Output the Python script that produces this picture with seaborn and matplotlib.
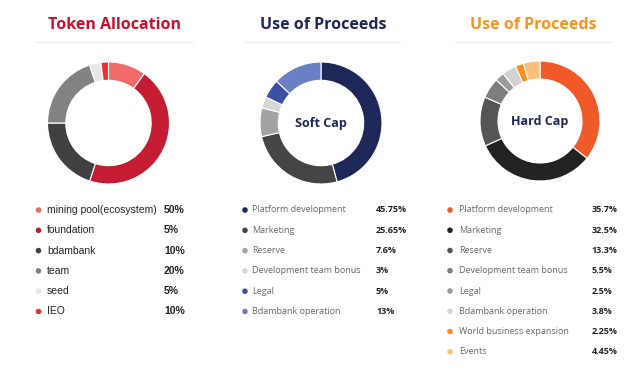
import matplotlib
matplotlib.use("Agg")
import matplotlib.pyplot as plt
import seaborn as sns
import pandas as pd

# --- data -------------------------------------------------------------
token_labels = ["mining pool(ecosystem)", "foundation", "bdambank", "team", "seed", "IEO"]
token_values = ["50%", "5%", "10%", "20%", "5%", "10%"]
token_marker_colors = ["#f0696a", "#c21a30", "#3c3c3e", "#7f7f82", "#e4e4e4", "#e8302e"]
# the ring as drawn in the picture (clockwise from 12 o'clock)
token_ring = [10, 45, 20, 20, 3, 2]
token_ring_colors = ["#f26b6b", "#c41c32", "#404043", "#828285", "#e6e6e6", "#e8302e"]

soft_labels = ["Platform development", "Marketing", "Reserve",
               "Development team bonus", "Legal", "Bdambank operation"]
soft_values = [45.75, 25.65, 7.6, 3, 5, 13]
soft_colors = ["#1e2858", "#454545", "#a3a3a3", "#d6d6d6", "#3d4fa3", "#6a7fc4"]

hard_labels = ["Platform development", "Marketing", "Reserve", "Development team bonus",
               "Legal", "Bdambank operation", "World business expansion", "Events"]
hard_values = [35.7, 32.5, 13.3, 5.5, 2.5, 3.8, 2.25, 4.45]
hard_colors = ["#f05a28", "#222222", "#555557", "#7d7d80", "#9a9a9c", "#d2d2d4", "#f7941d", "#fbbf7c"]

W, H = 640, 381
sns.set_theme(style="white")
plt.rcParams["font.family"] = ["Open Sans", "DejaVu Sans"]

fig = plt.figure(figsize=(W / 100, H / 100), dpi=100)
fig.patch.set_facecolor("white")
overlay = fig.add_axes([0, 0, 1, 1])
overlay.set_xlim(0, W)
overlay.set_ylim(H, 0)
overlay.axis("off")


def donut(cx, cy, r, values, colors, center_text=None):
    ax = fig.add_axes([(cx - r) / W, 1 - (cy + r) / H, 2 * r / W, 2 * r / H])
    ax.pie(values, colors=colors, startangle=90, counterclock=False,
           wedgeprops=dict(width=0.3, edgecolor="white", linewidth=0.8))
    ax.set_xlim(-1.0, 1.0)
    ax.set_ylim(-1.0, 1.0)
    ax.set_aspect("auto")
    if center_text:
        ax.text(0, 0, center_text, ha="center", va="center", fontsize=9,
                fontweight="bold", color="#1c2657")


def header(cx, x0, x1, text, color):
    overlay.text(cx, 25, text, ha="center", va="center", fontsize=11.5,
                 fontweight="bold", color=color)
    overlay.plot([x0, x1], [42, 42], color="#ececec", lw=0.8)


def legend(mx, tx, vx, y0, step, labels, values, colors, font,
           size, vsize, tcolor):
    ys = [y0 + i * step for i in range(len(labels))]
    df = pd.DataFrame({"x": [mx] * len(labels), "y": ys, "lab": labels})
    sns.scatterplot(data=df, x="x", y="y", hue="lab", palette=colors,
                    s=16, linewidth=0, legend=False, ax=overlay)
    for y, lab, val in zip(ys, labels, values):
        overlay.text(tx, y, lab, ha="left", va="center", fontsize=size,
                     color=tcolor, family=font)
        overlay.text(vx, y, val, ha="left", va="center", fontsize=vsize,
                     fontweight="bold", color="#222222", family=font)


header(114, 35, 193, "Token Allocation", "#c8102e")
header(323, 245, 400, "Use of Proceeds", "#1c2657")
header(533, 455, 611, "Use of Proceeds", "#f7931e")

donut(108.5, 123, 61, token_ring, token_ring_colors)
donut(321, 123, 61, soft_values, soft_colors, "Soft Cap")
donut(540, 121, 60, hard_values, hard_colors, "Hard Cap")

legend(38.5, 47, 164, 210, 20.3, token_labels, token_values, token_marker_colors,
       ["Liberation Sans", "DejaVu Sans"], 7.5, 7.5, "#222222")
legend(245, 252.5, 376, 210, 20.3, soft_labels,
       [f"{v:g}%" for v in soft_values], soft_colors,
       ["Open Sans", "DejaVu Sans"], 6.5, 6.5, "#666666")
legend(450, 459, 591.5, 210, 20.25, hard_labels,
       [f"{v:g}%" for v in hard_values], hard_colors,
       ["Open Sans", "DejaVu Sans"], 6.5, 6.5, "#666666")

overlay.set_xlim(0, W)
overlay.set_ylim(H, 0)
fig.savefig("out.png", dpi=100, facecolor="white")
